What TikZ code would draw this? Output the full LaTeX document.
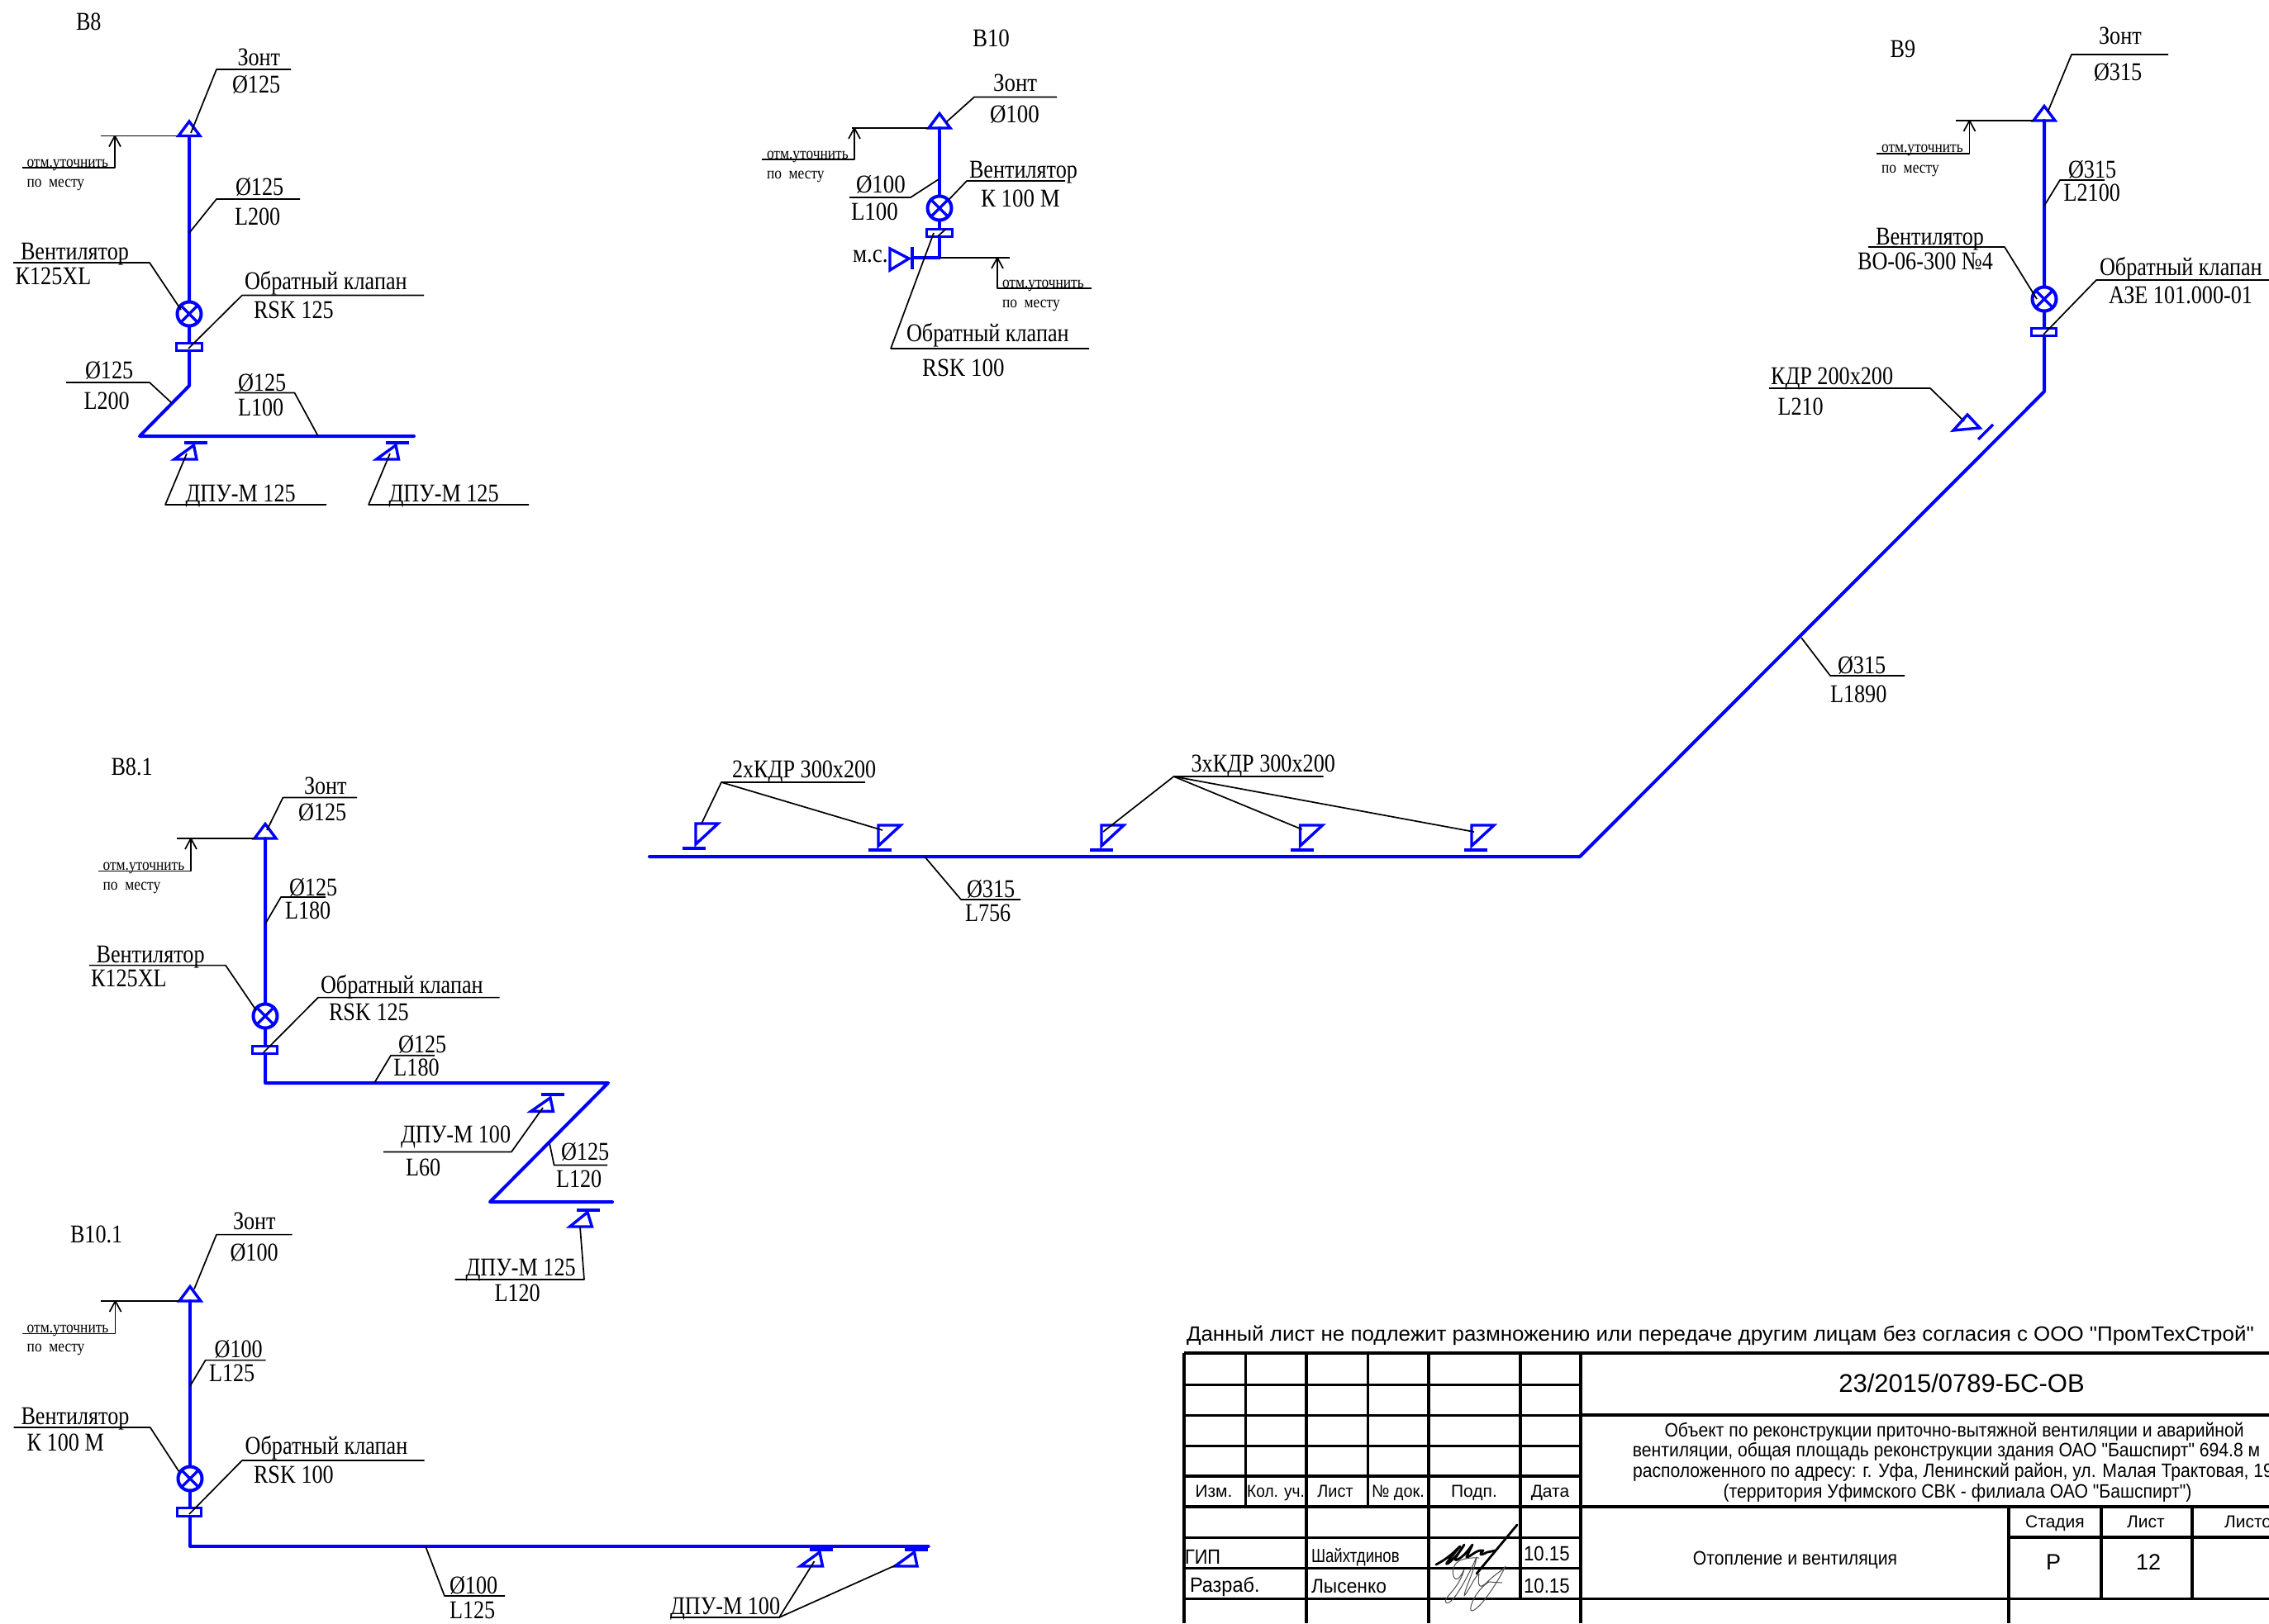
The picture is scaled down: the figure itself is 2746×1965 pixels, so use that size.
\documentclass[tikz,border=0pt]{standalone}
\usepackage{fontspec}
\setmainfont{Liberation Serif}
\newfontfamily\arf{Liberation Sans}
\definecolor{pipeblue}{RGB}{0,0,255}
\tikzset{
  pipe/.style={draw=pipeblue,line width=4pt,line cap=round,line join=round},
  thinblue/.style={draw=pipeblue,line width=3.4pt,line join=miter},
  lead/.style={draw=black,line width=1.7pt,line join=bevel},
  grid/.style={draw=black,line width=3pt},
  gridthick/.style={draw=black,line width=4pt},
  txt/.style={anchor=base west,inner sep=0pt,outer sep=0pt,font=\fontsize{31}{31}\selectfont},
  small/.style={anchor=base west,inner sep=0pt,outer sep=0pt,font=\fontsize{20}{20}\selectfont},
  ttl/.style={anchor=base,inner sep=0pt,outer sep=0pt,font=\arf\fontsize{21}{21}\selectfont},
  ttlw/.style={anchor=base west,inner sep=0pt,outer sep=0pt,font=\arf\fontsize{21}{21}\selectfont},
}
\newcount\tnum
\newcommand\T[4][.845]{\global\advance\tnum by 1 \node[txt] (t\the\tnum) at (#2,#3) {\scalebox{#1}[1]{#4}};}
\newcommand\Sm[4][.87]{\global\advance\tnum by 1 \node[small] (t\the\tnum) at (#2,#3) {\scalebox{#1}[1]{#4}};}
\newcommand\A[5][txt]{\global\advance\tnum by 1 \node[#1] (t\the\tnum) at (#2,#3) {\scalebox{#4}[1]{#5}};}
% umbrella on top of a riser: x, y of base
\newcommand\umb[2]{\draw[thinblue] (#1-13,#2) -- (#1,#2-17.5) -- (#1+13,#2) -- cycle;}
\newcommand\fan[2]{\draw[thinblue,fill=white,line width=4pt] (#1,#2) circle (14.5);
  \draw[thinblue,line width=3.4pt] (#1-10.2,#2-10.2) -- (#1+10.2,#2+10.2) (#1-10.2,#2+10.2) -- (#1+10.2,#2-10.2);}
\newcommand\valve[4]{\draw[thinblue,line width=3pt,fill=white] (#1,#2) rectangle (#3,#4);}
% level mark: line from x1 to x2 at y, arrow at xa, drop to y2, shelf from xs
\newcommand\level[6]{\draw[lead] (#1,#3) -- (#2,#3);
  \draw[lead] (#4,#3) -- (#4,#5) -- (#6,#5);
  \draw[lead] (#4-7,#3+13) -- (#4,#3) -- (#4+7,#3+13);}
% diffuser below duct: bar, triangle
\newcommand\diffu[3]{\draw[pipe,line cap=butt] (#1,#2-20) -- (#1+28,#2-20);
  \draw[thinblue] (#1-11.5,#2) -- (#1+15.5,#2) -- (#1+12,#2-17) -- cycle;}
% diffuser above duct
\newcommand\diffd[3]{\draw[pipe,line cap=butt] (#3,#2+5) -- (#3+28,#2+5);
  \draw[thinblue] (#1,#2-25) -- (#1+27,#2-25) -- (#1,#2) -- cycle;}
\begin{document}
\begin{tikzpicture}[x=1pt,y=-1pt]
\useasboundingbox (0,0) rectangle (2746,1965);
%% ---------------- B8
\T{92}{36}{В8}
\draw[pipe] (229,165) -- (229,467) -- (169,528) -- (501,528);
\umb{229}{164.5}
\fan{229}{380}
\valve{213}{415}{244}{424.5}
\diffu{222.5}{556}{0}
\diffu{467}{556}{0}
\level{122}{216}{164.5}{139}{203}{27}
\Sm{32.5}{202}{отм.уточнить}
\Sm{32.5}{226}{по\ \ месту}
\draw[lead] (352,84) -- (262,84) -- (231,161);
\T{287.5}{79}{Зонт}
\T{281}{112}{Ø125}
\draw[lead] (363,241) -- (262,241) -- (229,282);
\T{285}{236}{Ø125}
\T{284}{272}{L200}
\draw[lead] (16,318) -- (181,318) -- (219,375);
\T{25}{314}{Вентилятор}
\T{18.6}{344}{К125XL}
\draw[lead] (513,357.5) -- (293,357.5) -- (228,422);
\T{296}{350}{Обратный клапан}
\T{307}{385}{RSK 125}
\draw[lead] (80,463) -- (181,463) -- (208,488);
\T{103}{458}{Ø125}
\T{101.5}{495}{L200}
\draw[lead] (284,475.5) -- (356.5,475.5) -- (385,528);
\T{288}{473}{Ø125}
\T{288}{503}{L100}
\draw[lead] (226,549) -- (200,611) -- (395,611);
\T{224.6}{607}{ДПУ-М 125}
\draw[lead] (472,549) -- (446,611) -- (640,611);
\T{470.5}{607}{ДПУ-М 125}
%% ---------------- B10
\T[.87]{1177}{56}{В10}
\draw[pipe] (1137,155) -- (1137,312) -- (1104,312);
\draw[pipe,line cap=butt] (1104,299) -- (1104,326);
\draw[thinblue] (1077,301) -- (1100,313) -- (1077,327) -- cycle;
\umb{1137}{155}
\fan{1137}{252}
\valve{1121}{277}{1152}{286}
\T[.87]{1032}{317}{м.с.}
\level{1031}{1124}{155}{1034}{193}{922}
\Sm{928}{192}{отм.уточнить}
\Sm{928}{216}{по\ \ месту}
\level{1137}{1222}{312}{1207}{349}{1321}
\Sm{1213}{348}{отм.уточнить}
\Sm{1213}{372}{по\ \ месту}
\draw[lead] (1279,117.5) -- (1179,117.5) -- (1145,148);
\T[.87]{1202}{110}{Зонт}
\T[.87]{1198}{148}{Ø100}
\draw[lead] (1028,239) -- (1102,239) -- (1136,217);
\T[.87]{1036}{233}{Ø100}
\T[.87]{1030}{266}{L100}
\draw[lead] (1289,219) -- (1170,219) -- (1148,242);
\T[.845]{1173}{215}{Вентилятор}
\T[.87]{1187}{250}{К 100 М}
\draw[lead] (1318,422) -- (1078,422) -- (1130,282);
\draw[lead] (1135,286) -- (1145,277);
\T[.845]{1097}{413}{Обратный клапан}
\T[.87]{1116}{455}{RSK 100}
%% ---------------- B9 and long duct
\T{2287.5}{69}{В9}
\draw[pipe] (2474,146) -- (2474,474) -- (1912,1037) -- (786,1037);
\umb{2474}{146}
\fan{2474}{362}
\valve{2458}{397}{2488}{406}
\level{2367}{2461}{146}{2383.5}{186}{2271}
\Sm{2277}{184.6}{отм.уточнить}
\Sm{2277}{209}{по\ \ месту}
\draw[lead] (2624,66) -- (2507,66) -- (2478,136);
\T{2540}{53.6}{Зонт}
\T{2534}{97}{Ø315}
\draw[lead] (2547,218) -- (2493,218) -- (2474,249);
\T{2503}{215}{Ø315}
\T{2497.6}{243.6}{L2100}
\draw[lead] (2261,299) -- (2426,299) -- (2465,362);
\T{2270}{296}{Вентилятор}
\T{2248}{326}{ВО-06-300 №4}
\draw[lead] (2746,339) -- (2537,339) -- (2473,405);
\T{2541}{333}{Обратный клапан}
\T{2552}{367}{АЗЕ 101.000-01}
\draw[lead] (2141,470) -- (2336,470) -- (2377,510);
\T{2143}{465}{КДР 200х200}
\T{2151.5}{502}{L210}
\draw[thinblue] (2381,502) -- (2364,521) -- (2396,518) -- cycle;
\draw[pipe,line cap=butt,line width=3.4pt] (2412,514) -- (2394,532);
\draw[lead] (2180,772) -- (2215,818) -- (2305,818);
\T{2224}{815}{Ø315}
\T{2215}{850}{L1890}
% diffusers on the long duct
\diffd{842}{1022}{826}
\diffd{1063}{1024}{1051}
\diffd{1333}{1024}{1319}
\diffd{1573.5}{1024}{1561.6}
\diffd{1781}{1024}{1772}
\draw[lead] (849,997) -- (873,947) -- (1047,947);
\draw[lead] (873,947) -- (1068,1005);
\T{886}{941}{2хКДР 300х200}
\draw[lead] (1335,1007) -- (1420.5,940) -- (1601.6,940);
\draw[lead] (1420.5,940) -- (1575.6,1004);
\draw[lead] (1420.5,940) -- (1784,1007);
\T{1441.6}{934}{3хКДР 300х200}
\draw[lead] (1119,1037) -- (1163,1089) -- (1235,1089);
\T{1170}{1086}{Ø315}
\T{1168}{1115}{L756}
%% ---------------- B8.1
\T{134.5}{938}{В8.1}
\draw[pipe] (321,1015) -- (321,1311) -- (736,1311) -- (593,1455) -- (741,1455);
\umb{321}{1015}
\fan{321}{1230}
\valve{305.5}{1266}{335}{1275}
\level{214}{308}{1015}{231}{1054.6}{119}
\Sm{124.6}{1053}{отм.уточнить}
\Sm{124.6}{1077.5}{по\ \ месту}
\draw[lead] (432,965.4) -- (342.5,965.4) -- (323,1005);
\T{368}{961}{Зонт}
\T{361}{993}{Ø125}
\draw[lead] (394,1086) -- (340,1086) -- (321,1118.5);
\T{350}{1084}{Ø125}
\T{345}{1112}{L180}
\draw[lead] (108,1168.6) -- (273,1168.6) -- (310,1223);
\T{116.6}{1165}{Вентилятор}
\T{110}{1194}{К125XL}
\draw[lead] (604.5,1207.6) -- (385,1207.6) -- (319,1274);
\T{388}{1202}{Обратный клапан}
\T{398}{1235.6}{RSK 125}
\draw[lead] (526,1277.7) -- (473,1277.7) -- (453,1311);
\T{482}{1274.6}{Ø125}
\T{476.4}{1302.6}{L180}
\draw[pipe,line cap=butt] (654.5,1325) -- (682.7,1325);
\draw[thinblue] (642.5,1345.4) -- (669.5,1345.4) -- (666,1329) -- cycle;
\draw[lead] (657,1341) -- (619,1394.4) -- (464,1394.4);
\T{485}{1383.7}{ДПУ-М 100}
\T{491}{1423}{L60}
\draw[lead] (665,1383.7) -- (670.6,1410.5) -- (735,1410.5);
\T{679}{1404.7}{Ø125}
\T{673}{1437}{L120}
\draw[pipe,line cap=butt] (698,1465) -- (726,1465);
\draw[thinblue] (689.5,1485) -- (716.4,1485) -- (711,1467.5) -- cycle;
\draw[lead] (702,1485) -- (707,1549) -- (550.5,1549);
\T{563.6}{1544}{ДПУ-М 125}
\T{598.5}{1575}{L120}
%% ---------------- B10.1
\T{85}{1504.6}{В10.1}
\draw[pipe] (230,1575) -- (230,1872) -- (1123.6,1872);
\umb{230}{1575}
\fan{230}{1790}
\valve{214.5}{1825}{243.6}{1835}
\level{122}{217}{1575}{139.6}{1614.4}{27}
\Sm{32.7}{1613}{отм.уточнить}
\Sm{32.7}{1636.5}{по\ \ месту}
\draw[lead] (353.5,1494.6) -- (262,1494.6) -- (235,1560.5);
\T{282}{1488}{Зонт}
\T{278.5}{1526}{Ø100}
\draw[lead] (321.5,1646.6) -- (248.7,1646.6) -- (230,1678);
\T{259.6}{1643.5}{Ø100}
\T{253}{1672}{L125}
\draw[lead] (16.7,1728) -- (181.8,1728) -- (216.7,1781.5);
\T{25.5}{1724.6}{Вентилятор}
\T{32.7}{1756}{К 100 М}
\draw[lead] (513.5,1768) -- (293,1768) -- (229,1833);
\T{296.7}{1760.7}{Обратный клапан}
\T{307}{1795}{RSK 100}
\draw[lead] (515,1872) -- (538,1932) -- (611,1932);
\T{544}{1929}{Ø100}
\T{544}{1959}{L125}
\diffu{980}{1896}{0}
\diffu{1094.5}{1896}{0}
\draw[lead] (985.5,1890) -- (943,1958) -- (811,1958);
\draw[lead] (1083.6,1895) -- (943,1958);
\T{811}{1954}{ДПУ-М 100}
%% ---------------- title block
\A[ttlw]{1436}{1623}{1.037}{\fontsize{25}{25}\selectfont Данный лист не подлежит размножению или передаче другим лицам без согласия с ООО "ПромТехСтрой"}
% horizontals
\draw[gridthick] (1432.6,1638) -- (2746,1638);
\foreach \yy in {1676,1713,1750} {\draw[grid] (1432.6,\yy) -- (1913,\yy);}
\draw[gridthick] (1432.6,1787) -- (1913,1787);
\draw[gridthick] (1913,1713) -- (2746,1713);
\draw[gridthick] (1432.6,1823.7) -- (2746,1823.7);
\draw[grid] (1432.6,1861) -- (1913,1861);
\draw[grid] (1432.6,1898) -- (1913,1898);
\draw[gridthick] (2431,1861) -- (2746,1861);
\draw[grid] (1432.6,1935) -- (2746,1935);
% verticals
\foreach \xx in {1432.6,1581,1729,1913} {\draw[gridthick] (\xx,1638) -- (\xx,1965);}
\foreach \xx in {1507,1655} {\draw[grid] (\xx,1638) -- (\xx,1823.7);}
\draw[gridthick] (1840,1638) -- (1840,1935);
\draw[gridthick] (2431,1823.7) -- (2431,1965);
\draw[gridthick] (2542.5,1823.7) -- (2542.5,1935);
\draw[gridthick] (2653,1823.7) -- (2653,1935);
\A[ttl]{2374}{1685}{1}{\fontsize{31}{31}\selectfont 23/2015/0789-БС-ОВ}
\A[ttl]{2365}{1739}{.9}{\fontsize{23.5}{23.5}\selectfont Объект по реконструкции приточно-вытяжной вентиляции и аварийной}
\A[ttl]{2355.5}{1763}{.9}{\fontsize{23.5}{23.5}\selectfont вентиляции, общая площадь реконструкции здания ОАО "Башспирт" 694.8 м}
\A[ttlw]{1976}{1788}{.9}{\fontsize{23.5}{23.5}\selectfont расположенного по адресу: г. Уфа, Ленинский район, ул. Малая Трактовая, 19}
\A[ttl]{2369}{1813}{.9}{\fontsize{23.5}{23.5}\selectfont (территория Уфимского СВК - филиала ОАО "Башспирт")}
\A[ttl]{1469}{1812}{1}{Изм.}
\A[ttl]{1544}{1812}{.91}{Кол. уч.}
\A[ttl]{1616}{1812}{.95}{Лист}
\A[ttl]{1692}{1812}{.95}{№ док.}
\A[ttl]{1784}{1812}{1}{Подп.}
\A[ttl]{1876}{1812}{1}{Дата}
\A[ttl]{2487}{1849}{1}{Стадия}
\A[ttl]{2597}{1849}{1}{Лист}
\A[ttlw]{2692}{1849}{1}{Листов}
\A[ttl]{2485}{1900}{1}{\fontsize{27}{27}\selectfont Р}
\A[ttl]{2600}{1900}{1}{\fontsize{27}{27}\selectfont 12}
\A[ttl]{2172.5}{1894}{.9}{\fontsize{23.5}{23.5}\selectfont Отопление и вентиляция}
\A[ttlw]{1434}{1893}{.87}{\fontsize{25}{25}\selectfont ГИП}
\A[ttlw]{1587}{1891}{.81}{\fontsize{23}{23}\selectfont Шайхтдинов}
\A[ttlw]{1440}{1927}{.94}{\fontsize{25}{25}\selectfont Разраб.}
\A[ttlw]{1587}{1928}{.95}{\fontsize{24}{24}\selectfont Лысенко}
\A[ttlw]{1844}{1889}{.89}{\fontsize{25}{25}\selectfont 10.15}
\A[ttlw]{1844}{1928}{.89}{\fontsize{25}{25}\selectfont 10.15}
% signatures
\draw[black,line width=2.8pt,line join=round,line cap=round] (1738,1894) .. controls (1755,1885) and (1760,1878) .. (1767,1872) .. controls (1752,1890) and (1748,1895) .. (1752,1893) .. controls (1762,1885) and (1768,1877) .. (1772,1870) .. controls (1762,1885) and (1758,1890) .. (1764,1888) .. controls (1772,1884) and (1778,1875) .. (1782,1870) .. controls (1775,1885) and (1772,1888) .. (1778,1884) .. controls (1785,1880) and (1788,1876) .. (1795,1877) .. controls (1790,1882) and (1790,1884) .. (1800,1879) -- (1810,1877);
\draw[black,line width=2.8pt,line cap=round] (1787,1905) -- (1836,1846);
\draw[black!70,line width=1pt,line join=round] (1790,1886) .. controls (1770,1885) and (1755,1890) .. (1759,1908) .. controls (1762,1915) and (1766,1912) .. (1772,1900) .. controls (1765,1925) and (1745,1935) .. (1750,1940) .. controls (1758,1945) and (1778,1905) .. (1787,1885) .. controls (1785,1900) and (1772,1925) .. (1772,1932) .. controls (1778,1925) and (1785,1908) .. (1790,1905) .. controls (1788,1920) and (1790,1925) .. (1800,1915) .. controls (1810,1905) and (1820,1900) .. (1822,1896) .. controls (1818,1905) and (1795,1945) .. (1782,1950) .. controls (1775,1952) and (1785,1925) .. (1802,1915) -- (1818,1916);
\end{tikzpicture}
\end{document}
